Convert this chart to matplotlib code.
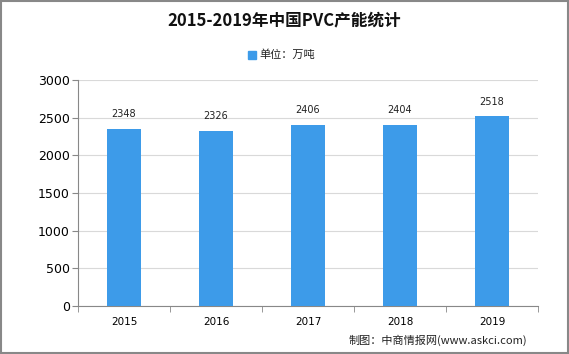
import matplotlib
matplotlib.use("Agg")
import matplotlib.pyplot as plt
from matplotlib.patches import Rectangle

plt.rcParams['font.family'] = ['Noto Sans CJK SC', 'DejaVu Sans']

years = ['2015', '2016', '2017', '2018', '2019']
values = [2348, 2326, 2406, 2404, 2518]
yticks = [0, 500, 1000, 1500, 2000, 2500, 3000]
bar_color = '#3d9be9'

fig = plt.figure(figsize=(5.69, 3.54), dpi=100)
ax = fig.add_axes([78/569, 1-306/354, 460/569, 226/354])

x = range(len(years))
ax.bar(x, values, width=0.37, color=bar_color, zorder=3)
for xi, v in zip(x, values):
    ax.annotate(str(v), (xi, v), xytext=(0, 7), textcoords='offset points',
                ha='center', va='bottom', fontsize=7, color='#222222',
                family='DejaVu Sans')

ax.set_xlim(-0.5, 4.5)
ax.set_ylim(0, 3000)
ax.set_yticks(yticks)
ax.set_yticklabels([str(t) for t in yticks], fontsize=9, family='DejaVu Sans')
ax.set_xticks(x)
ax.set_xticklabels(years, fontsize=7.5, family='DejaVu Sans')
ax.set_xticks([i - 0.5 for i in range(len(years) + 1)], minor=True)
ax.tick_params(axis='x', which='major', length=0, pad=8)
ax.tick_params(axis='x', which='minor', length=4, color='#888888')
ax.tick_params(axis='y', length=4, color='#888888', pad=2)
ax.grid(axis='y', color='#d9d9d9', linewidth=0.8, zorder=0)
for s in ['top', 'right']:
    ax.spines[s].set_visible(False)
for s in ['left', 'bottom']:
    ax.spines[s].set_color('#888888')

fig.text(0.5, 1-20/354, '2015-2019年中国PVC产能统计', ha='center', va='center',
         fontsize=12, fontweight='bold', color='#111111')
fig.patches.append(Rectangle((248/569, 1-59/354), 8/569, 8/354,
                             transform=fig.transFigure, color=bar_color))
fig.text(259/569, 1-55/354, '单位：万吨', ha='left', va='center', fontsize=8, color='#222222')
fig.text(527/569, 1-340/354, '制图：中商情报网(www.askci.com)', ha='right', va='center',
         fontsize=8, color='#222222')

fig.patches.append(Rectangle((0.001, 0.002), 0.997, 0.996, transform=fig.transFigure,
                             fill=False, edgecolor='#888888', linewidth=1.5))

fig.savefig('out.png', dpi=100)
